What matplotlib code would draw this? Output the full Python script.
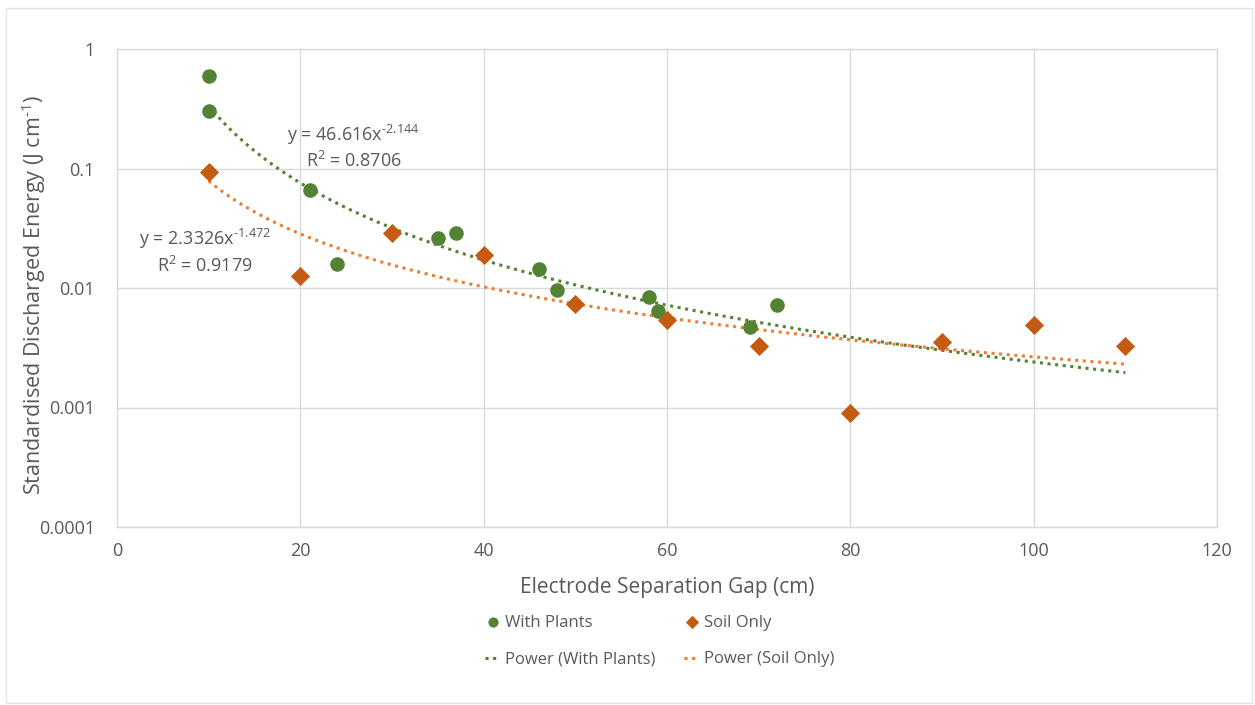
"""
Standardised discharged energy vs electrode separation gap,
with power-law trendlines (log y axis, Excel-style look).
"""

import numpy as np
import matplotlib.pyplot as plt
from matplotlib.patches import Rectangle

# ==== Data ====
plants_gap = [10, 10, 21, 24, 35, 37, 46, 48, 58, 59, 69, 72]
plants_energy = [0.59, 0.30, 0.066, 0.016, 0.026, 0.029, 0.0145, 0.0096,
                 0.0084, 0.0064, 0.0047, 0.0072]

soil_gap = [10, 20, 30, 40, 50, 60, 70, 80, 90, 100, 110]
soil_energy = [0.094, 0.0126, 0.029, 0.019, 0.0074, 0.0054, 0.0033,
               0.00090, 0.0035, 0.0049, 0.0033]

# power trendlines as printed on the chart: y = a * x^b
plants_fit = (46.616, -2.144)
soil_fit = (2.3326, -1.472)
fit_range = (10, 110)

x_ticks = [0, 20, 40, 60, 80, 100, 120]
y_ticks = [0.0001, 0.001, 0.01, 0.1, 1]
y_tick_labels = ['0.0001', '0.001', '0.01', '0.1', '1']

# ==== Style ====
GREEN = '#548235'
ORANGE = '#c55a11'
GREEN_LINE = '#548235'
ORANGE_LINE = '#ed7d31'
TEXT = '#595959'
GRID = '#d9d9d9'

plt.rcParams['font.family'] = ['Open Sans', 'DejaVu Sans']
plt.rcParams['mathtext.fontset'] = 'custom'
plt.rcParams['mathtext.rm'] = 'Open Sans'
plt.rcParams['mathtext.it'] = 'Open Sans'
plt.rcParams['mathtext.default'] = 'rm'

fig = plt.figure(figsize=(12.55, 7.05), dpi=100)
ax = fig.add_axes([117 / 1255, 1 - 527 / 705, (1217 - 117) / 1255, (527 - 49) / 705])

# faint chart border
fig.patches.append(Rectangle((6 / 1255, 2 / 705), 1246 / 1255, 695 / 705,
                             transform=fig.transFigure, fill=False,
                             edgecolor='#e4e4e4', linewidth=1))

# trendlines
xs = np.linspace(fit_range[0], fit_range[1], 200)
a, b = plants_fit
ax.plot(xs, a * xs ** b, linestyle=(0, (1, 1.5)), color=GREEN_LINE, linewidth=2.2,
        label='Power (With Plants)', zorder=2)
a, b = soil_fit
ax.plot(xs, a * xs ** b, linestyle=(0, (1, 1.5)), color=ORANGE_LINE, linewidth=2.2,
        label='Power (Soil Only)', zorder=2)

# points
ax.scatter(plants_gap, plants_energy, s=110, marker='o', color=GREEN,
           label='With Plants', zorder=3, linewidths=0)
ax.scatter(soil_gap, soil_energy, s=95, marker='D', color=ORANGE,
           label='Soil Only', zorder=3, linewidths=0)

# equations
eq_size = 13
ax.text(25.8, 0.19, r'y = 46.616x$^{\text{-2.144}}$', fontsize=eq_size, color=TEXT,
        ha='center', va='center')
ax.text(25.8, 0.115, r'R$^{2}$ = 0.8706', fontsize=eq_size, color=TEXT,
        ha='center', va='center')
ax.text(9.6, 0.0255, r'y = 2.3326x$^{\text{-1.472}}$', fontsize=eq_size, color=TEXT,
        ha='center', va='center')
ax.text(9.6, 0.0152, r'R$^{2}$ = 0.9179', fontsize=eq_size, color=TEXT,
        ha='center', va='center')

# axes
ax.set_yscale('log')
ax.set_xlim(0, 120)
ax.set_ylim(0.0001, 1)
ax.set_xticks(x_ticks)
ax.set_yticks(y_ticks)
ax.set_yticklabels(y_tick_labels)
ax.minorticks_off()
ax.tick_params(axis='both', length=0, labelsize=13, labelcolor=TEXT)
ax.tick_params(axis='y', pad=16)
ax.tick_params(axis='x', pad=11)
ax.grid(True, color=GRID, linewidth=1)
ax.set_axisbelow(True)
for side in ['top', 'right', 'bottom', 'left']:
    ax.spines[side].set_color(GRID)
    ax.spines[side].set_linewidth(1)

ax.set_xlabel('Electrode Separation Gap (cm)', fontsize=15, color=TEXT, labelpad=12)
ax.set_ylabel(r'Standardised Discharged Energy (J cm$^{\text{-1}}$)', fontsize=15.5,
              color=TEXT, va='center')
ax.yaxis.set_label_coords(-0.0755, 0.485)

# legend: two columns, markers on first row, trendlines on second
handles, labels = ax.get_legend_handles_labels()
order = ['With Plants', 'Power (With Plants)', 'Soil Only', 'Power (Soil Only)']
h = [handles[labels.index(name)] for name in order]
leg = fig.legend(h, order, loc='center', ncol=2, frameon=False,
                 bbox_to_anchor=(660 / 1255, 1 - 641 / 705),
                 fontsize=12, labelcolor=TEXT, handlelength=0.9,
                 handletextpad=0.3, columnspacing=1.7, labelspacing=1.25,
                 markerscale=0.7)

plt.savefig('out.png', dpi=100)
